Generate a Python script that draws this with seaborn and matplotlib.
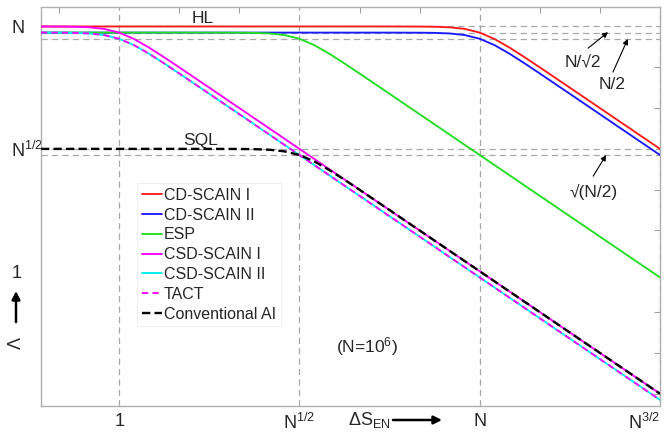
import matplotlib
matplotlib.use("Agg")
import matplotlib.pyplot as plt
import seaborn as sns
import pandas as pd
from matplotlib.ticker import FixedLocator, FixedFormatter, NullFormatter

# ---------------- data (N = 1e6) ----------------
delta_s = [0.05, 0.1, 0.178, 0.316, 0.562, 1, 1.78, 3.16, 5.62, 10, 31.6, 100,
           178, 316, 562, 1000, 1780, 3160, 5620, 1e4, 3.16e4, 1e5, 1.78e5,
           3.16e5, 5.62e5, 1e6, 1.78e6, 3.16e6, 5.62e6, 1e7, 3.16e7, 1e8, 1e9]

cd_scain_1 = [1e6] * 20 + [999500, 995000, 984600, 953500, 871600, 707100, 490200,
                           301500, 175100, 99500, 31610, 10000, 1000]
cd_scain_2 = [707100] * 20 + [706800, 703600, 696200, 674200, 616300, 500000,
                              346600, 213200, 123800, 70360, 22350, 7071, 707.1]
esp = [707100] * 10 + [706800, 703600, 696200, 674200, 616300, 500000, 346600,
                       213200, 123800, 70360, 22350, 7071, 3976, 2236, 1257, 707.1,
                       397.6, 223.6, 125.7, 70.71, 22.36, 7.071, 0.7071]
csd_scain_1 = [998700, 995000, 984600, 953500, 871600, 707100, 490200, 301500,
               175100, 99500, 31610, 10000, 5623, 3162, 1778, 1000, 562.3, 316.2,
               177.8, 100, 31.62, 10, 5.623, 3.162, 1.778, 1, 0.5623, 0.3162,
               0.1778, 0.1, 0.03162, 0.01, 0.001]
csd_scain_2 = [706200, 703600, 696200, 674200, 616300, 500000, 346600, 213200,
               123800, 70360, 22350, 7071, 3976, 2236, 1257, 707.1, 397.6, 223.6,
               125.7, 70.71, 22.36, 7.071, 3.976, 2.236, 1.257, 0.7071, 0.3976,
               0.2236, 0.1257, 0.07071, 0.02236, 0.007071, 0.0007071]
tact = list(csd_scain_2)
conventional_ai = [1000] * 10 + [999.5, 995.0, 984.6, 953.5, 871.6, 707.1, 490.2,
                                 301.5, 175.1, 99.5, 31.61, 10, 5.623, 3.162, 1.778,
                                 1, 0.5623, 0.3162, 0.1778, 0.1, 0.03162, 0.01, 0.001]

series_names = ["CD-SCAIN I", "CD-SCAIN II", "ESP", "CSD-SCAIN I",
                "CSD-SCAIN II", "TACT", "Conventional AI"]
series_values = [cd_scain_1, cd_scain_2, esp, csd_scain_1, csd_scain_2, tact,
                 conventional_ai]

x_major = [1, 1e3, 1e6, 1e9]
x_major_labels = ["1", r"N$^{\mathregular{1/2}}$", "N", r"N$^{\mathregular{3/2}}$"]
x_minor = [0.1, 10, 100, 1e4, 1e5, 1e7, 1e8]
y_major = [1, 1e3, 1e6]
y_major_labels = ["1", r"N$^{\mathregular{1/2}}$", "N"]
y_minor = [1e-3, 1e-2, 1e-1, 10, 100, 1e4, 1e5]
h_ref = [1e6, 707100, 500000, 1000, 707.1]   # N, N/sqrt2, N/2, N^1/2, sqrt(N/2)
v_ref = [1, 1e3, 1e6, 1e9]

# ---------------- style ----------------
sns.set_theme(style="white")
plt.rcParams["font.family"] = ["Liberation Sans", "DejaVu Sans"]
plt.rcParams["mathtext.fontset"] = "custom"
plt.rcParams["mathtext.rm"] = "Liberation Sans"
plt.rcParams["mathtext.it"] = "Liberation Sans:italic"
plt.rcParams["mathtext.bf"] = "Liberation Sans:bold"
plt.rcParams["lines.scale_dashes"] = False

styles = {
    "CD-SCAIN I": dict(color="#ff1a1a", linestyle="-", lw=1.35),
    "CD-SCAIN II": dict(color="#1a1aff", linestyle="-", lw=1.35),
    "ESP": dict(color="#22dd22", linestyle="-", lw=1.35),
    "CSD-SCAIN I": dict(color="#ff00ff", linestyle="-", lw=1.35),
    "CSD-SCAIN II": dict(color="#00f0f0", linestyle="-", lw=1.35),
    "TACT": dict(color="#ff00ff", linestyle=(0, (4.5, 3.0)), lw=1.35),
    "Conventional AI": dict(color="black", linestyle=(0, (6.0, 3.0)), lw=1.7),
}

fig = plt.figure(figsize=(6.68, 4.32), dpi=100)
ax = fig.add_axes([41 / 668, 26 / 432, 619 / 668, 399 / 432])
ax.set_xscale("log")
ax.set_yscale("log")

grid_kw = dict(color="#a8a8a8", lw=0.9, linestyle=(0, (4.5, 3.0)), zorder=1)
for yv in h_ref:
    ax.axhline(yv, **grid_kw)
for xv in v_ref:
    ax.axvline(xv, **grid_kw)

frames = []
for name, vals in zip(series_names, series_values):
    frames.append(pd.DataFrame({"dS": delta_s, "Lambda": vals, "series": name}))
df = pd.concat(frames, ignore_index=True)

for name in series_names:
    sub = df[df["series"] == name]
    sns.lineplot(data=sub, x="dS", y="Lambda", ax=ax, estimator=None, sort=False,
                 label=name, zorder=3, **styles[name])

ax.set_xlim(0.05, 1e9)
ax.set_ylim(5e-4, 3e6)

ax.xaxis.set_major_locator(FixedLocator(x_major))
ax.xaxis.set_major_formatter(FixedFormatter(x_major_labels))
ax.xaxis.set_minor_locator(FixedLocator(x_minor))
ax.xaxis.set_minor_formatter(NullFormatter())
ax.yaxis.set_major_locator(FixedLocator(y_major))
ax.yaxis.set_major_formatter(FixedFormatter(y_major_labels))
ax.yaxis.set_minor_locator(FixedLocator(y_minor))
ax.yaxis.set_minor_formatter(NullFormatter())

ax.tick_params(which="both", direction="in", top=True, right=True,
               color="#a0a0a0", width=0.8)
ax.tick_params(which="major", length=0)
ax.tick_params(which="minor", length=4.3)
ax.tick_params(axis="x", which="major", labelsize=13, pad=5)
ax.tick_params(axis="y", which="major", labelsize=13, pad=21.5)
for lab in ax.get_yticklabels():
    lab.set_horizontalalignment("left")
# keep the last x tick label inside the figure
ax.get_xticklabels()[-1].set_horizontalalignment("right")
ax.set_xlabel("")
ax.set_ylabel("")
for sp in ax.spines.values():
    sp.set_color("#b0b0b0")
    sp.set_linewidth(1.0)

leg = ax.legend(loc="upper left", bbox_to_anchor=(0.155, 0.559), borderaxespad=0,
                fontsize=11.5, handlelength=1.25, handletextpad=0.12,
                labelspacing=0.3, borderpad=0.3, frameon=True, fancybox=False,
                framealpha=1.0, edgecolor="#f0f0f0")
leg.get_frame().set_linewidth(0.8)

# ---------------- annotations ----------------
ax.text(0.262, 0.970, "HL", transform=ax.transAxes, ha="center", va="center", fontsize=12.5)
ax.text(0.257, 0.665, "SQL", transform=ax.transAxes, ha="center", va="center", fontsize=12.5)
ax.text(0.876, 0.862, "N/\u221a2", transform=ax.transAxes, ha="center", va="center", fontsize=12.5)
ax.text(0.922, 0.805, "N/2", transform=ax.transAxes, ha="center", va="center", fontsize=12.5)
ax.text(0.892, 0.536, "\u221a(N/2)", transform=ax.transAxes, ha="center", va="center", fontsize=12.5)
ax.text(0.527, 0.148, r"(N=10$^{\mathregular{6}}$)", transform=ax.transAxes,
        ha="center", va="center", fontsize=12.5)

arr_kw = dict(arrowstyle="-|>", color="black", lw=0.8, mutation_scale=8,
              shrinkA=0, shrinkB=0)
for tail, head in [((0.884, 0.897), (0.916, 0.937)),
                   ((0.924, 0.837), (0.948, 0.920)),
                   ((0.892, 0.576), (0.913, 0.629))]:
    ax.annotate("", xy=head, xytext=tail, xycoords="axes fraction",
                textcoords="axes fraction", arrowprops=arr_kw)

# axis labels with arrows
fig.text(16 / 668, 89 / 432, "\u039b", rotation=90, ha="center", va="center", fontsize=13)
ax.annotate("", xy=(16, 141), xytext=(16, 110), xycoords="figure pixels",
            textcoords="figure pixels",
            arrowprops=dict(arrowstyle="-|>", color="black", lw=1.8,
                            mutation_scale=12, shrinkA=0, shrinkB=0),
            annotation_clip=False)
fig.text(348 / 668, 12 / 432, "\u0394S$_{\\mathregular{EN}}$",
         ha="left", va="center", fontsize=13)
ax.annotate("", xy=(442, 12), xytext=(393, 12), xycoords="figure pixels",
            textcoords="figure pixels",
            arrowprops=dict(arrowstyle="-|>", color="black", lw=1.8,
                            mutation_scale=12, shrinkA=0, shrinkB=0),
            annotation_clip=False)

fig.savefig("out.png", dpi=100)
